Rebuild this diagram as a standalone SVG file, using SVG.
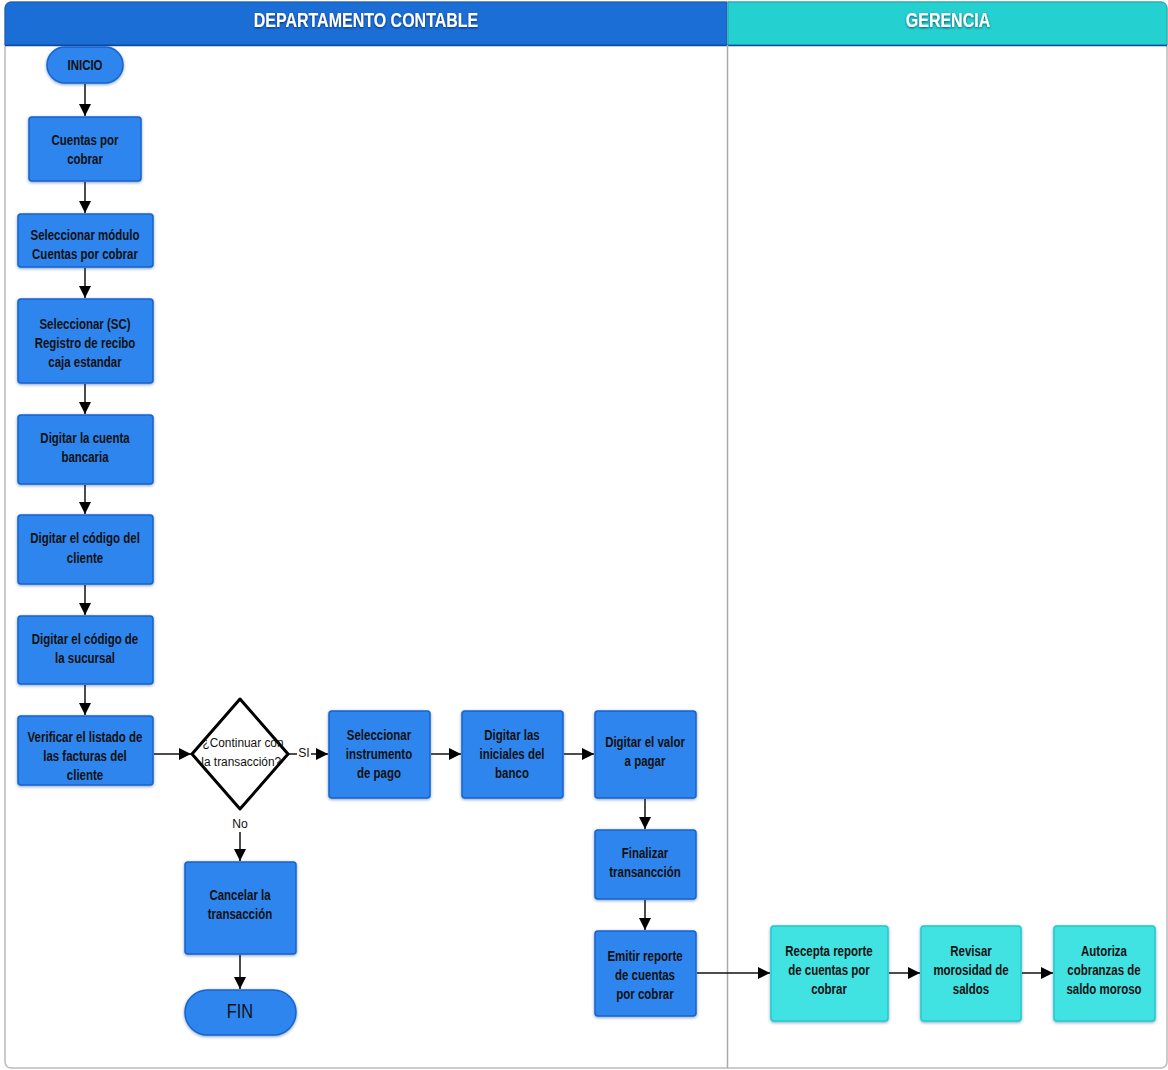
<svg xmlns="http://www.w3.org/2000/svg" width="1168" height="1070" viewBox="0 0 1168 1070">
  <defs>
    <filter id="glow" x="-10%" y="-10%" width="120%" height="125%">
      <feGaussianBlur in="SourceAlpha" stdDeviation="1.5"/>
      <feOffset dy="1" result="b"/>
      <feFlood flood-color="#0a3f8a" flood-opacity="0.5"/>
      <feComposite in2="b" operator="in"/>
      <feMerge><feMergeNode/><feMergeNode in="SourceGraphic"/></feMerge>
    </filter>
    <filter id="tshadow" x="-10%" y="-30%" width="120%" height="160%">
      <feGaussianBlur in="SourceAlpha" stdDeviation="1.2"/>
      <feOffset dy="1" result="b"/>
      <feFlood flood-color="#003" flood-opacity="0.6"/>
      <feComposite in2="b" operator="in"/>
      <feMerge><feMergeNode/><feMergeNode in="SourceGraphic"/></feMerge>
    </filter>
    <marker id="arrowL" viewBox="0 0 10 10" refX="10" refY="5" markerWidth="12" markerHeight="12" markerUnits="userSpaceOnUse" orient="auto">
      <path d="M0,0 L10,5 L0,10 z" fill="#000"/>
    </marker>
  </defs>
  <style>
    .blue { fill: #2d85ee; stroke: #1763cf; stroke-width: 1.5; filter: url(#glow); }
    .teal { fill: #3fe2e2; stroke: #25c9c9; stroke-width: 1.5; filter: url(#glow); }
    .lbl { font-family: "Liberation Sans", Arial, sans-serif; font-weight: bold; font-size: 14px; fill: #111; text-anchor: middle; }
    .plain { font-family: "Liberation Sans", Arial, sans-serif; font-size: 13.5px; fill: #111; text-anchor: middle; }
    .head { font-family: "Liberation Sans", Arial, sans-serif; font-weight: bold; font-size: 20px; fill: #fff; text-anchor: middle; filter: url(#tshadow); }
    .conn { stroke: #111; stroke-width: 1.5; fill: none; marker-end: url(#arrowL); }
  </style>

  <rect width="1168" height="1070" fill="#fff"/>

  <!-- swimlanes -->
  <g id="lanes">
    <rect x="5" y="2" width="1162" height="1066" rx="6" fill="#fff" stroke="#bbb" stroke-width="1.5"/>
    <path d="M5,45 V8 a6,6 0 0 1 6,-6 H727 V45 z" fill="#1b6ed6" stroke="#155bb4" stroke-width="1"/>
    <path d="M728,2 H1161 a6,6 0 0 1 6,6 V45 H728 z" fill="#24d0d0" stroke="#1aa8a8" stroke-width="1"/>
    <line x1="5" y1="45.5" x2="1167" y2="45.5" stroke="#0e4a9a" stroke-width="1.5"/>
    <line x1="727.5" y1="45" x2="727.5" y2="1068" stroke="#aaa" stroke-width="1.5"/>
    <g class="head" transform="translate(366,0) scale(0.8,1)"><text y="27">DEPARTAMENTO CONTABLE</text></g>
    <g class="head" transform="translate(948,0) scale(0.8,1)"><text y="27">GERENCIA</text></g>
  </g>

  <!-- connectors -->
  <g id="connectors">
    <line class="conn" x1="85" y1="84" x2="85" y2="116"/>
    <line class="conn" x1="85" y1="182" x2="85" y2="213"/>
    <line class="conn" x1="85" y1="268" x2="85" y2="298"/>
    <line class="conn" x1="85" y1="384" x2="85" y2="414"/>
    <line class="conn" x1="85" y1="485" x2="85" y2="514"/>
    <line class="conn" x1="85" y1="585" x2="85" y2="615"/>
    <line class="conn" x1="85" y1="685" x2="85" y2="715"/>
    <line class="conn" x1="154" y1="754" x2="191" y2="754"/>
    <line class="conn" x1="311" y1="754" x2="328" y2="754"/>
    <line x1="289" y1="754" x2="297" y2="754" stroke="#111" stroke-width="1.5"/>
    <line class="conn" x1="240" y1="832" x2="240" y2="861"/>
    <line class="conn" x1="431" y1="754" x2="461" y2="754"/>
    <line class="conn" x1="564" y1="754" x2="594" y2="754"/>
    <line class="conn" x1="645" y1="799" x2="645" y2="829"/>
    <line class="conn" x1="645" y1="900" x2="645" y2="930"/>
    <line class="conn" x1="240" y1="955" x2="240" y2="989"/>
    <line class="conn" x1="697" y1="973" x2="770" y2="973"/>
    <line class="conn" x1="889" y1="973" x2="920" y2="973"/>
    <line class="conn" x1="1022" y1="973" x2="1053" y2="973"/>
    <g class="plain" transform="translate(304,0) scale(0.9,1)"><text y="757">SI</text></g>
    <g class="plain" transform="translate(240,0) scale(0.9,1)"><text y="828">No</text></g>
  </g>

  <!-- nodes -->
  <g id="inicio">
    <rect class="blue" x="47" y="47" width="76" height="36" rx="18"/>
    <g class="lbl" transform="translate(85,0) scale(0.82,1)"><text y="70">INICIO</text></g>
  </g>
  <g id="cuentas-por-cobrar">
    <rect class="blue" x="29" y="117" width="112" height="64" rx="3"/>
    <g class="lbl" transform="translate(85,0) scale(0.82,1)">
      <text y="145">Cuentas por</text>
      <text y="164">cobrar</text>
    </g>
  </g>
  <g id="seleccionar-modulo">
    <rect class="blue" x="18" y="214" width="135" height="53" rx="3"/>
    <g class="lbl" transform="translate(85,0) scale(0.82,1)">
      <text y="240">Seleccionar módulo</text>
      <text y="259">Cuentas por cobrar</text>
    </g>
  </g>
  <g id="seleccionar-sc">
    <rect class="blue" x="18" y="299" width="135" height="84" rx="3"/>
    <g class="lbl" transform="translate(85,0) scale(0.82,1)">
      <text y="329">Seleccionar (SC)</text>
      <text y="348">Registro de recibo</text>
      <text y="367">caja estandar</text>
    </g>
  </g>
  <g id="digitar-cuenta">
    <rect class="blue" x="18" y="415" width="135" height="69" rx="3"/>
    <g class="lbl" transform="translate(85,0) scale(0.82,1)">
      <text y="443">Digitar la cuenta</text>
      <text y="462">bancaria</text>
    </g>
  </g>
  <g id="digitar-codigo-cliente">
    <rect class="blue" x="18" y="515" width="135" height="69" rx="3"/>
    <g class="lbl" transform="translate(85,0) scale(0.82,1)">
      <text y="543">Digitar el código del</text>
      <text y="563">cliente</text>
    </g>
  </g>
  <g id="digitar-codigo-sucursal">
    <rect class="blue" x="18" y="616" width="135" height="68" rx="3"/>
    <g class="lbl" transform="translate(85,0) scale(0.82,1)">
      <text y="644">Digitar el código de</text>
      <text y="663">la sucursal</text>
    </g>
  </g>
  <g id="verificar-listado">
    <rect class="blue" x="18" y="716" width="135" height="69" rx="3"/>
    <g class="lbl" transform="translate(85,0) scale(0.82,1)">
      <text y="742">Verificar el listado de</text>
      <text y="761">las facturas del</text>
      <text y="780">cliente</text>
    </g>
  </g>
  <g id="continuar">
    <path d="M240,699 L288,754 L240,809 L192,754 z" fill="#fff" stroke="#000" stroke-width="3" stroke-linejoin="round"/>
    <g class="plain" transform="translate(243,0) scale(0.88,1)">
      <text y="747">¿Continuar con</text>
      <text y="766" x="-2">la transacción?</text>
    </g>
  </g>
  <g id="seleccionar-instrumento">
    <rect class="blue" x="329" y="711" width="101" height="87" rx="3"/>
    <g class="lbl" transform="translate(379,0) scale(0.82,1)">
      <text y="740">Seleccionar</text>
      <text y="759">instrumento</text>
      <text y="778">de pago</text>
    </g>
  </g>
  <g id="digitar-iniciales">
    <rect class="blue" x="462" y="711" width="101" height="87" rx="3"/>
    <g class="lbl" transform="translate(512,0) scale(0.82,1)">
      <text y="740">Digitar las</text>
      <text y="759">iniciales del</text>
      <text y="778">banco</text>
    </g>
  </g>
  <g id="digitar-valor">
    <rect class="blue" x="595" y="711" width="101" height="87" rx="3"/>
    <g class="lbl" transform="translate(645,0) scale(0.82,1)">
      <text y="747">Digitar el valor</text>
      <text y="766">a pagar</text>
    </g>
  </g>
  <g id="finalizar">
    <rect class="blue" x="595" y="830" width="101" height="69" rx="3"/>
    <g class="lbl" transform="translate(645,0) scale(0.82,1)">
      <text y="858">Finalizar</text>
      <text y="877">transancción</text>
    </g>
  </g>
  <g id="emitir-reporte">
    <rect class="blue" x="595" y="931" width="101" height="85" rx="3"/>
    <g class="lbl" transform="translate(645,0) scale(0.82,1)">
      <text y="961">Emitir reporte</text>
      <text y="980">de cuentas</text>
      <text y="999">por cobrar</text>
    </g>
  </g>
  <g id="cancelar">
    <rect class="blue" x="185" y="862" width="111" height="92" rx="3"/>
    <g class="lbl" transform="translate(240,0) scale(0.82,1)">
      <text y="900">Cancelar la</text>
      <text y="919">transacción</text>
    </g>
  </g>
  <g id="fin">
    <rect class="blue" x="185" y="990" width="111" height="45" rx="22.5"/>
    <g class="plain" transform="translate(240,0) scale(0.82,1)"><text y="1018" style="font-size:20px">FIN</text></g>
  </g>
  <g id="recepta-reporte">
    <rect class="teal" x="771" y="926" width="117" height="95" rx="3"/>
    <g class="lbl" transform="translate(829,0) scale(0.82,1)">
      <text y="956">Recepta reporte</text>
      <text y="975">de cuentas por</text>
      <text y="994">cobrar</text>
    </g>
  </g>
  <g id="revisar-morosidad">
    <rect class="teal" x="921" y="926" width="100" height="95" rx="3"/>
    <g class="lbl" transform="translate(971,0) scale(0.82,1)">
      <text y="956">Revisar</text>
      <text y="975">morosidad de</text>
      <text y="994">saldos</text>
    </g>
  </g>
  <g id="autoriza-cobranzas">
    <rect class="teal" x="1054" y="926" width="101" height="95" rx="3"/>
    <g class="lbl" transform="translate(1104,0) scale(0.82,1)">
      <text y="956">Autoriza</text>
      <text y="975">cobranzas de</text>
      <text y="994">saldo moroso</text>
    </g>
  </g>
</svg>
